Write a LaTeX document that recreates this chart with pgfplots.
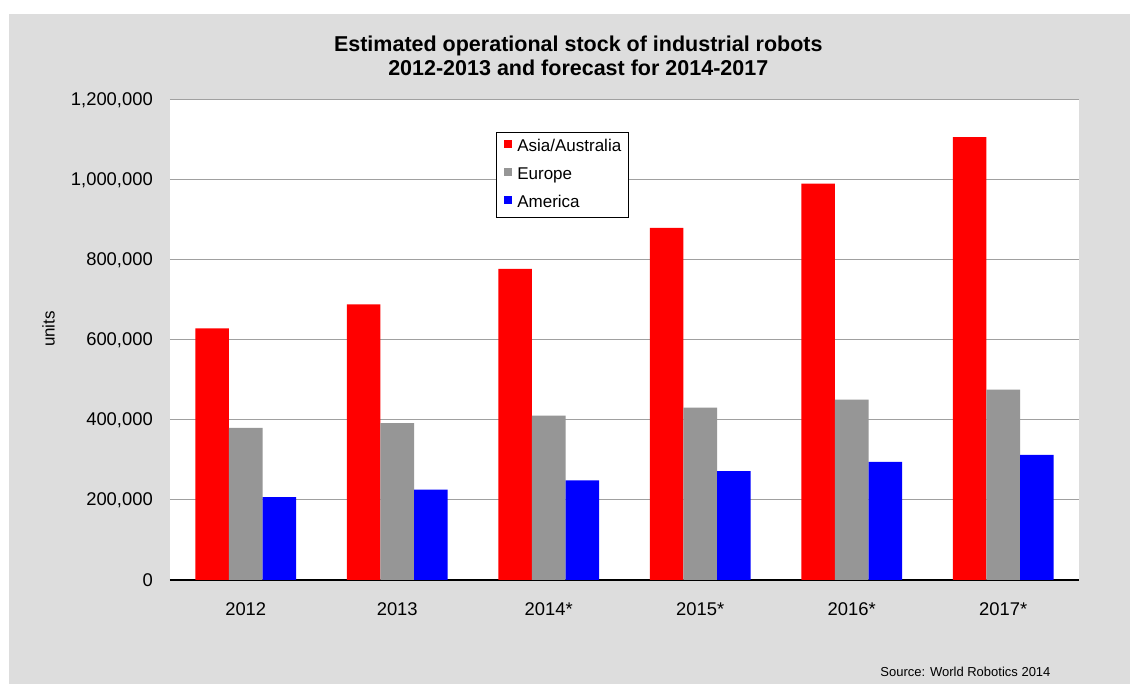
\documentclass[border=0pt]{standalone}
\usepackage{pgfplots}
\pgfplotsset{compat=1.18}
\usepackage{fontspec}
\setmainfont{Liberation Sans}

\definecolor{bgpanel}{RGB}{221,221,221}
\definecolor{gridgray}{RGB}{160,160,160}
\definecolor{asiared}{RGB}{255,0,0}
\definecolor{europegray}{RGB}{150,150,150}
\definecolor{americablue}{RGB}{0,0,255}

\begin{document}
\begin{tikzpicture}[x=1pt,y=1pt]
  % page and chart panel
  \fill[white] (0,0) rectangle (1130,684);
  \fill[bgpanel] (9,0) rectangle (1130,670);

  % title
  \node[anchor=base, font=\fontsize{21.5}{26}\selectfont\bfseries]
    at (578.3,632.3) {Estimated operational stock of industrial robots};
  \node[anchor=base, font=\fontsize{21.5}{26}\selectfont\bfseries]
    at (578.3,608.3) {2012-2013 and forecast for 2014-2017};

  \begin{axis}[
    at={(170pt,104pt)}, anchor=south west,
    scale only axis, width=909pt, height=480pt,
    axis background/.style={fill=white},
    ybar=0pt, bar width=33.6pt,
    xmin=-0.5, xmax=5.5,
    ymin=0, ymax=1200000,
    xtick={0,1,2,3,4,5},
    xticklabels={2012,2013,2014*,2015*,2016*,2017*},
    ytick={0,200000,400000,600000,800000,1000000,1200000},
    scaled y ticks=false,
    /pgf/number format/.cd, fixed, 1000 sep={,}, assume math mode=true,
    /pgfplots/.cd,
    tick style={draw=none},
    ymajorgrids,
    grid style={gridgray, line width=1pt},
    axis x line*=bottom,
    axis y line*=left,
    x axis line style={black, line width=1.3pt},
    y axis line style={draw=none},
    ticklabel style={font=\fontsize{18.4}{22}\selectfont},
    yticklabel style={anchor=east, inner sep=0pt, xshift=-17pt},
    xticklabel style={anchor=north, inner sep=0pt, yshift=-18pt},
    ylabel={units},
    ylabel style={at={(axis description cs:-0.1337,0.523)}, anchor=center,
                  rotate=0, font=\fontsize{17}{20}\selectfont},
    legend image code/.code={\fill[#1] (0pt,-1pt) rectangle (8pt,7pt);},
    legend style={at={(0.359,0.9333)}, anchor=north west,
                  draw=black, line width=1pt, fill=white,
                  font=\fontsize{17}{20}\selectfont,
                  inner xsep=7.5pt, inner ysep=7pt, row sep=13pt,
                  nodes={inner sep=0pt, text height=12pt, text depth=3pt},
                  /tikz/every odd column/.append style={column sep=5pt}},
    legend cell align=left,
  ]
    \addplot[fill=asiared, draw=none] coordinates
      {(0,628900) (1,689300) (2,778000) (3,880000) (4,991000) (5,1107000)};
    \addplot[fill=europegray, draw=none] coordinates
      {(0,380500) (1,392200) (2,411000) (3,431000) (4,451000) (5,476000)};
    \addplot[fill=americablue, draw=none] coordinates
      {(0,207000) (1,226100) (2,249000) (3,272000) (4,295000) (5,313000)};
    \legend{Asia/Australia, Europe, America}
  \end{axis}

  % source note
  \node[anchor=base east, font=\fontsize{13}{16}\selectfont] at (1054,7)
    {Source: World Robotics 2014};
\end{tikzpicture}
\end{document}
